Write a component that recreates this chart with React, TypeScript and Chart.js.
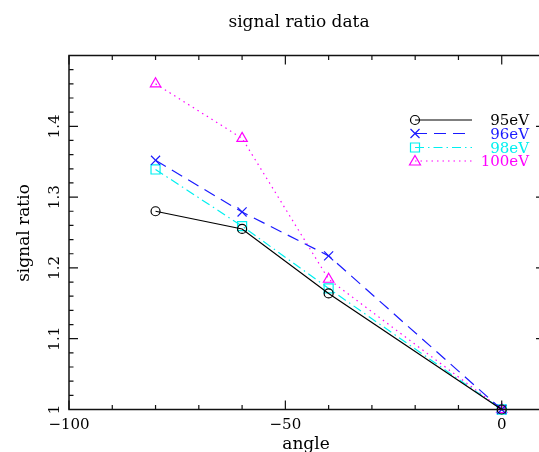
import React, { useEffect, useRef } from "react";
import { Chart, registerables } from "chart.js";

Chart.register(...registerables);

const angles = [-80, -60, -40, 0];
const ratio95 = [1.28, 1.255, 1.164, 1.0];
const ratio96 = [1.352, 1.279, 1.217, 1.0];
const ratio98 = [1.339, 1.259, 1.171, 1.0];
const ratio100 = [1.46, 1.383, 1.184, 1.0];

const seriesLabels = ["95eV", "96eV", "98eV", "100eV"];
const xMajorTicks = [-100, -50, 0];
const xTickLabels = ["\u2212100", "\u221250", "0"];
const yMajorTicks = [1, 1.1, 1.2, 1.3, 1.4];
const yTickLabels = ["1", "1.1", "1.2", "1.3", "1.4"];

const X_MIN = -100;
const X_MAX = 10;
const Y_MIN = 1;
const Y_MAX = 1.5;

const FONT = "'DejaVu Serif', serif";

function drawMarker(ctx: CanvasRenderingContext2D, style: string, x: number, y: number, color: string) {
  ctx.save();
  ctx.strokeStyle = color;
  ctx.lineWidth = 1.2;
  ctx.setLineDash([]);
  ctx.beginPath();
  if (style === "circle") {
    ctx.arc(x, y, 4.5, 0, Math.PI * 2);
  } else if (style === "crossRot") {
    const d = 4.5;
    ctx.moveTo(x - d, y - d);
    ctx.lineTo(x + d, y + d);
    ctx.moveTo(x - d, y + d);
    ctx.lineTo(x + d, y - d);
  } else if (style === "rect") {
    ctx.rect(x - 4.5, y - 4.5, 9, 9);
  } else if (style === "triangle") {
    ctx.moveTo(x, y - 5.5);
    ctx.lineTo(x + 5.5, y + 4);
    ctx.lineTo(x - 5.5, y + 4);
    ctx.closePath();
  }
  ctx.stroke();
  ctx.restore();
}

export default function App() {
  const ref = useRef<HTMLCanvasElement | null>(null);

  useEffect(() => {
    if (!ref.current) return;
    const colors = ["#000000", "#1a1aff", "#00f0f0", "#ff00ff"];
    const dashes = [[], [12, 7], [9, 4, 1.5, 4], [1.5, 4]];
    const styles = ["circle", "crossRot", "rect", "triangle"];
    const radii = [4.5, 6.4, 6.4, 6];
    const values = [ratio95, ratio96, ratio98, ratio100];

    const decor = {
      id: "decor",
      afterDraw(chart: any) {
        const ctx: CanvasRenderingContext2D = chart.ctx;
        const xs = chart.scales.x;
        const ys = chart.scales.y;
        const { left, right, top, bottom } = chart.chartArea;
        ctx.save();
        ctx.strokeStyle = "#111";
        ctx.lineWidth = 1.5;
        ctx.setLineDash([]);
        ctx.strokeRect(left, top, right - left, bottom - top);
        ctx.lineWidth = 1.2;
        ctx.beginPath();
        for (let v = -100; v <= X_MAX; v += 10) {
          const px = xs.getPixelForValue(v);
          const len = v % 50 === 0 ? 9 : 4.5;
          ctx.moveTo(px, bottom);
          ctx.lineTo(px, bottom - len);
          ctx.moveTo(px, top);
          ctx.lineTo(px, top + len);
        }
        for (let i = 0; i <= 25; i++) {
          const v = Y_MIN + i * 0.02;
          const py = ys.getPixelForValue(v);
          const len = i % 5 === 0 ? 9 : 4.5;
          ctx.moveTo(left, py);
          ctx.lineTo(left + len, py);
          ctx.moveTo(right, py);
          ctx.lineTo(right - len, py);
        }
        ctx.stroke();

        ctx.fillStyle = "#000";
        ctx.font = "15px " + FONT;
        ctx.textAlign = "center";
        ctx.textBaseline = "alphabetic";
        xMajorTicks.forEach((v, i) => {
          ctx.fillText(xTickLabels[i], xs.getPixelForValue(v), 429);
        });
        yMajorTicks.forEach((v, i) => {
          ctx.save();
          ctx.translate(59, ys.getPixelForValue(v));
          ctx.rotate(-Math.PI / 2);
          ctx.textAlign = "center";
          ctx.fillText(yTickLabels[i], 0, 0);
          ctx.restore();
        });
        ctx.font = "17px " + FONT;
        ctx.textAlign = "center";
        ctx.fillText("signal ratio data", 299, 27);
        ctx.fillText("angle", 306, 449);
        ctx.save();
        ctx.translate(29, 233);
        ctx.rotate(-Math.PI / 2);
        ctx.fillText("signal ratio", 0, 0);
        ctx.restore();

        const rowY = [120, 133.5, 147.5, 161];
        ctx.font = "15px " + FONT;
        ctx.textAlign = "right";
        seriesLabels.forEach((lab, i) => {
          const y = rowY[i];
          ctx.save();
          ctx.strokeStyle = colors[i];
          ctx.lineWidth = 1.2;
          ctx.setLineDash(dashes[i]);
          ctx.beginPath();
          ctx.moveTo(415, y);
          ctx.lineTo(472, y);
          ctx.stroke();
          ctx.restore();
          drawMarker(ctx, styles[i], 415, y, colors[i]);
          ctx.fillStyle = colors[i];
          ctx.fillText(lab, 529, y + 5);
        });
        ctx.restore();
      },
    };

    const chart = new Chart(ref.current, {
      type: "line",
      data: {
        datasets: values.map((vals, i) => ({
          label: seriesLabels[i],
          data: angles.map((a, j) => ({ x: a, y: vals[j] })),
          borderColor: colors[i],
          backgroundColor: "transparent",
          borderWidth: 1.2,
          borderDash: dashes[i],
          pointStyle: styles[i] as any,
          pointRadius: radii[i],
          pointBorderWidth: 1.2,
          pointBorderColor: colors[i],
          pointBackgroundColor: "transparent",
          tension: 0,
          clip: false as any,
        })),
      },
      options: {
        responsive: false,
        animation: false,
        devicePixelRatio: 1,
        layout: { autoPadding: false, padding: { left: 69, right: 0, top: 55.5, bottom: 42.5 } },
        plugins: { legend: { display: false }, tooltip: { enabled: false }, title: { display: false } },
        scales: {
          x: { type: "linear", display: false, min: X_MIN, max: X_MAX },
          y: { type: "linear", display: false, min: Y_MIN, max: Y_MAX },
        },
      },
      plugins: [decor],
    });
    return () => chart.destroy();
  }, []);

  return (
    <div style={{ position: "absolute", left: 0, top: 0, width: 539, height: 452, overflow: "hidden", background: "#fff" }}>
      <canvas ref={ref} width={545} height={452} style={{ width: 545, height: 452, display: "block" }} />
    </div>
  );
}
